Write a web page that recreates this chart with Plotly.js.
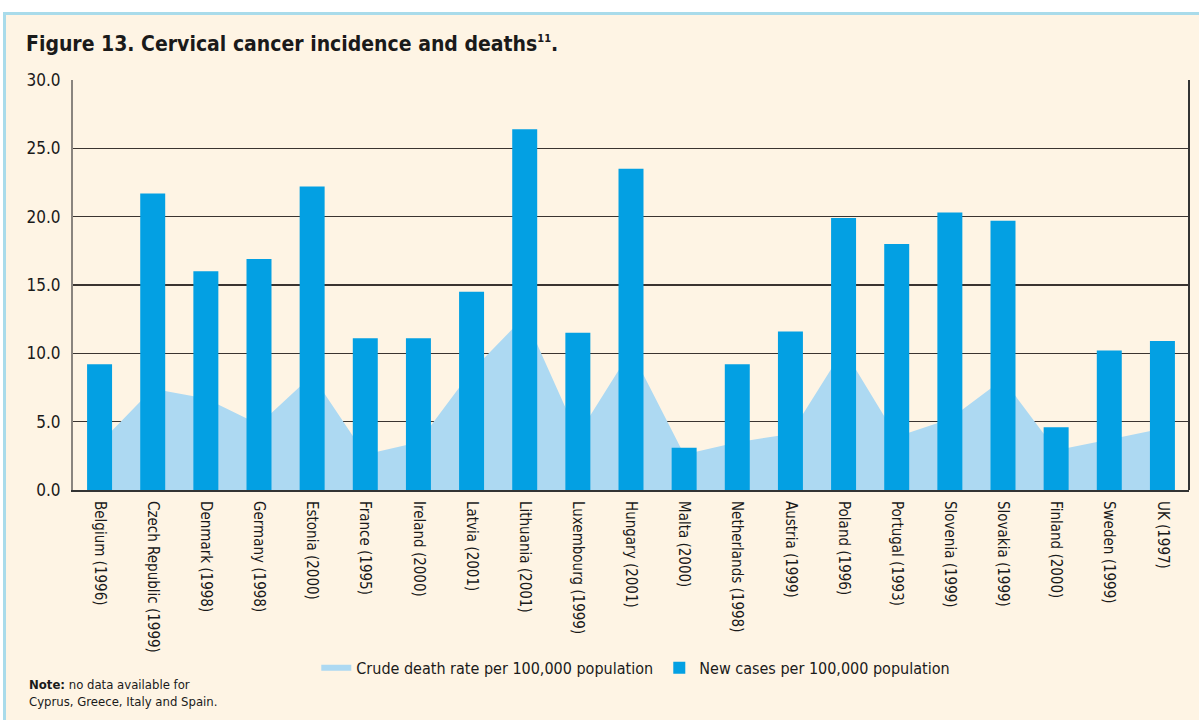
<!DOCTYPE html>
<html>
<head>
<meta charset="utf-8">
<script src="https://cdn.plot.ly/plotly-3.0.1.min.js"></script>
<style>
  html, body { margin: 0; padding: 0; background: #ffffff; }
  #frame {
    position: absolute; left: 3px; top: 12px; width: 1196px; height: 708px;
    background: #fef4e4; border-left: 3px solid #a9dbea; border-top: 3px solid #a9dbea;
    box-sizing: border-box;
  }
  #chart { position: absolute; left: 0; top: 0; width: 1199px; height: 720px; }
</style>
</head>
<body>
<div id="frame"></div>
<div id="chart"></div>
<script>
// Countries (survey year in brackets)
const countries = [
  "Belgium (1996)", "Czech Republic (1999)", "Denmark (1998)", "Germany (1998)",
  "Estonia (2000)", "France (1995)", "Ireland (2000)", "Latvia (2001)",
  "Lithuania (2001)", "Luxembourg (1999)", "Hungary (2001)", "Malta (2000)",
  "Netherlands (1998)", "Austria (1999)", "Poland (1996)", "Portugal (1993)",
  "Slovenia (1999)", "Slovakia (1999)", "Finland (2000)", "Sweden (1999)", "UK (1997)"
];

// Crude death rate per 100,000 population
const deathRate = [
  3.4, 7.4, 6.7, 4.8, 8.4, 2.6, 3.5, 8.7, 12.7, 4.0, 10.2,
  2.6, 3.5, 4.1, 10.3, 3.9, 5.2, 8.1, 2.9, 3.7, 4.5
];

// New cases per 100,000 population
const newCases = [
  9.2, 21.7, 16.0, 16.9, 22.2, 11.1, 11.1, 14.5, 26.4, 11.5, 23.5,
  3.1, 9.2, 11.6, 19.9, 18.0, 20.3, 19.7, 4.6, 10.2, 10.9
];

const yTicks = [0, 5, 10, 15, 20, 25, 30];

const FONT = "'DejaVu Sans Condensed', 'Liberation Sans Narrow', 'Arial Narrow', sans-serif";
const INK = "#1a1a1a";

const traces = [
  {
    type: "scatter",
    name: "Crude death rate per 100,000 population",
    x: countries,
    y: deathRate,
    mode: "none",
    fill: "tozeroy",
    fillcolor: "#add9f2",
    yaxis: "y",
    hoverinfo: "x+y"
  },
  {
    type: "bar",
    name: "New cases per 100,000 population",
    x: countries,
    y: newCases,
    marker: { color: "#03a0e3", line: { width: 0 } },
    yaxis: "y2"
  }
];

const layout = {
  width: 1199,
  height: 720,
  paper_bgcolor: "rgba(0,0,0,0)",
  plot_bgcolor: "rgba(0,0,0,0)",
  margin: { l: 73, r: 10, t: 80, b: 230 },
  font: { family: FONT, color: INK, size: 16 },
  title: {
    text: "<b>Figure 13. Cervical cancer incidence and deaths<sup><span style=\"font-size:11px\">11</span></sup>.</b>",
    font: { family: FONT, size: 21, color: INK },
    x: 0, xref: "container", xanchor: "left",
    y: 1, yref: "container", yanchor: "top",
    pad: { l: 26, t: 36 }
  },
  bargap: 0.53,
  showlegend: true,
  legend: {
    orientation: "h",
    x: 0.218, xanchor: "left",
    y: -0.434, yanchor: "middle",
    font: { family: FONT, size: 16, color: INK },
    bgcolor: "rgba(0,0,0,0)",
    traceorder: "normal",
    entrywidth: 298,
    entrywidthmode: "pixels",
    itemwidth: 30
  },
  xaxis: {
    type: "category",
    tickangle: 90,
    tickfont: { family: FONT, size: 15, color: INK },
    showgrid: false,
    showline: true,
    linecolor: "#333333",
    linewidth: 2,
    ticks: "",
    ticklabelstandoff: 6,
    fixedrange: true
  },
  yaxis: {
    range: [0, 30],
    tickvals: yTicks,
    tickformat: ".1f",
    tickfont: { family: FONT, size: 17, color: INK },
    showgrid: true,
    gridcolor: "#3a3430",
    gridwidth: 1.5,
    zeroline: false,
    showline: true,
    linecolor: "#8a847e",
    linewidth: 2,
    ticks: "",
    ticklabelstandoff: 7,
    fixedrange: true
  },
  yaxis2: {
    range: [0, 30],
    overlaying: "y",
    side: "left",
    visible: false,
    showgrid: false,
    fixedrange: true
  },
  shapes: [
    { type: "line", xref: "paper", yref: "paper", x0: 1, x1: 1, y0: 0, y1: 1,
      line: { color: "#333333", width: 2 } }
  ],
  annotations: [
    {
      xref: "paper", yref: "paper",
      x: -0.041, y: -0.45, xanchor: "left", yanchor: "top",
      align: "left",
      showarrow: false,
      text: "<b>Note:</b> no data available for<br>Cyprus, Greece, Italy and Spain.",
      font: { family: FONT, size: 13, color: INK }
    }
  ]
};

Plotly.newPlot("chart", traces, layout, { displayModeBar: false, staticPlot: true });
</script>
</body>
</html>
